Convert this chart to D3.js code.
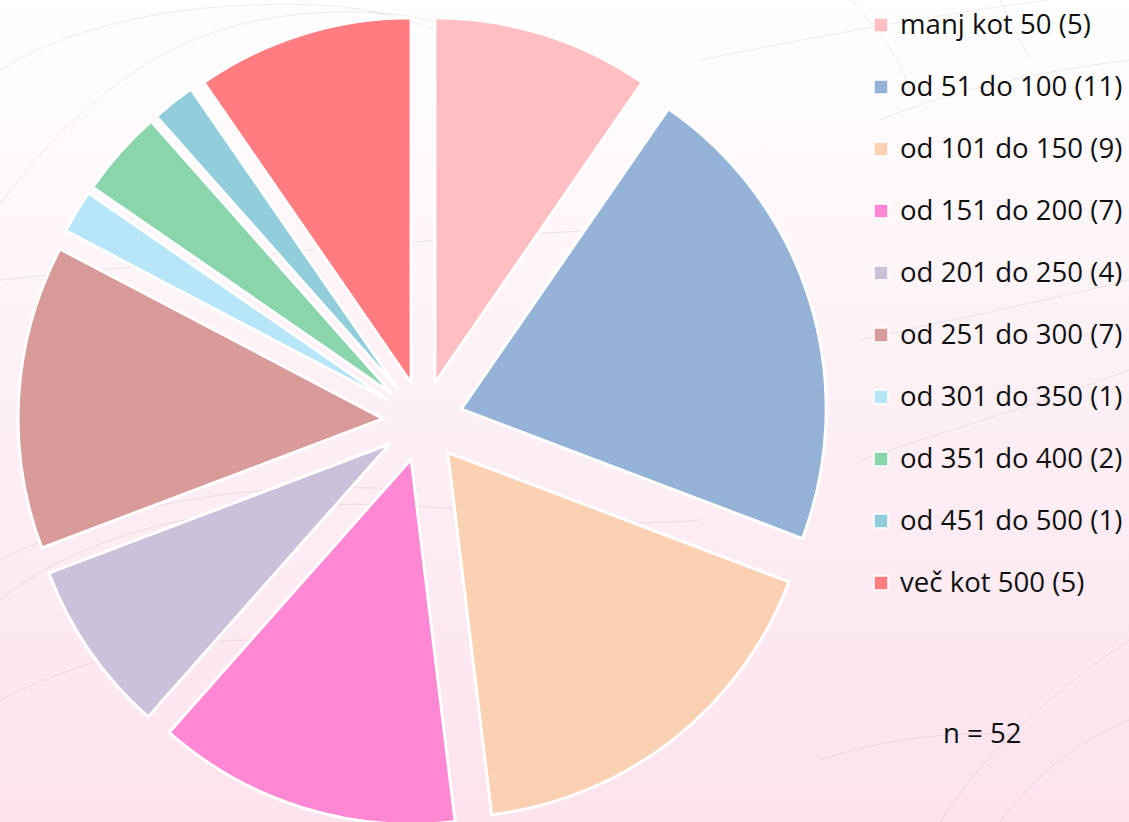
<!DOCTYPE html>
<html><head><meta charset="utf-8">
<script src="https://cdn.jsdelivr.net/npm/d3@7"></script>
<style>html,body{margin:0;padding:0;overflow:hidden;background:#fff}</style>
</head><body>
<svg id="chart" width="1129" height="822"></svg>
<script>
const categories = ["manj kot 50","od 51 do 100","od 101 do 150","od 151 do 200","od 201 do 250","od 251 do 300","od 301 do 350","od 351 do 400","od 451 do 500","več kot 500"];
const counts = [5,11,9,7,4,7,1,2,1,5];
const colors = ["#FFBFC2","#95B3D7","#FAD1B3","#FF87D3","#CBC1DA","#D99B9A","#B8E6F9","#8BD5AC","#92CDDC","#FF7C80"];
const totalLabel = "n = 52";

const W = 1129, H = 822;
const svg = d3.select("#chart");
const defs = svg.append("defs");
const grad = defs.append("linearGradient").attr("id","bg").attr("x1",0).attr("y1",0).attr("x2",0).attr("y2",1);
grad.append("stop").attr("offset","0%").attr("stop-color","#ffffff");
grad.append("stop").attr("offset","45%").attr("stop-color","#fdf1f6");
grad.append("stop").attr("offset","100%").attr("stop-color","#fde3ee");
svg.append("rect").attr("width",W).attr("height",H).attr("fill","url(#bg)");

// faint decorative wave lines
const waves = svg.append("g").attr("fill","none").attr("stroke","#000").attr("stroke-opacity",0.08).attr("stroke-width",1);
const wavePaths = [
 "M0,70 C80,20 200,0 320,5 C420,10 520,60 560,120",
 "M0,205 C60,120 150,40 260,20 C340,5 430,10 480,40",
 "M850,0 C880,30 900,60 910,90",
 "M1000,0 C1010,20 1020,40 1030,60",
 "M700,60 C800,40 950,10 1129,-10",
 "M880,120 C950,90 1050,70 1129,60",
 "M0,600 C100,520 250,500 400,505 C500,510 600,530 700,520",
 "M0,560 C120,500 260,480 420,490",
 "M860,340 C950,320 1050,300 1129,280",
 "M860,460 C950,430 1050,400 1129,370",
 "M0,280 C200,260 400,240 600,230",
 "M940,822 C980,760 1040,700 1129,640",
 "M1000,822 C1040,770 1080,740 1129,720",
 "M820,760 C880,740 950,730 1020,735",
 "M0,700 C80,660 160,640 260,640"
];
waves.selectAll("path").data(wavePaths).join("path").attr("d",d=>d);

const cx = 423, cy = 421, R = 365, offset = 40;
const pie = d3.pie().sort(null).value(d=>d)(counts);
const arc = d3.arc().innerRadius(0).outerRadius(R);
const g = svg.append("g").attr("transform",`translate(${cx},${cy})`);
g.selectAll("path").data(pie).join("path")
  .attr("d",arc)
  .attr("transform",d=>{const a=(d.startAngle+d.endAngle)/2; return `translate(${offset*Math.sin(a)},${-offset*Math.cos(a)})`;})
  .attr("fill",(d,i)=>colors[i])
  .attr("stroke","#ffffff").attr("stroke-width",3).attr("stroke-linejoin","miter");

// legend
const font = "'Open Sans', sans-serif";
const leg = svg.append("g");
const y0 = 25, dy = 62;
const rows = leg.selectAll("g").data(categories).join("g")
  .attr("transform",(d,i)=>`translate(0,${y0+i*dy})`);
rows.append("rect").attr("x",874).attr("y",-7).attr("width",14).attr("height",14)
  .attr("fill",(d,i)=>colors[i]).attr("stroke","#fff").attr("stroke-width",1.5);
rows.append("text").attr("x",900).attr("y",9).attr("font-family",font).attr("font-size",27.6).attr("fill","#111")
  .text((d,i)=>`${d} (${counts[i]})`);

svg.append("text").attr("x",943).attr("y",743).attr("font-family",font).attr("font-size",27.6).attr("fill","#111").text(totalLabel);
</script>
</body></html>
